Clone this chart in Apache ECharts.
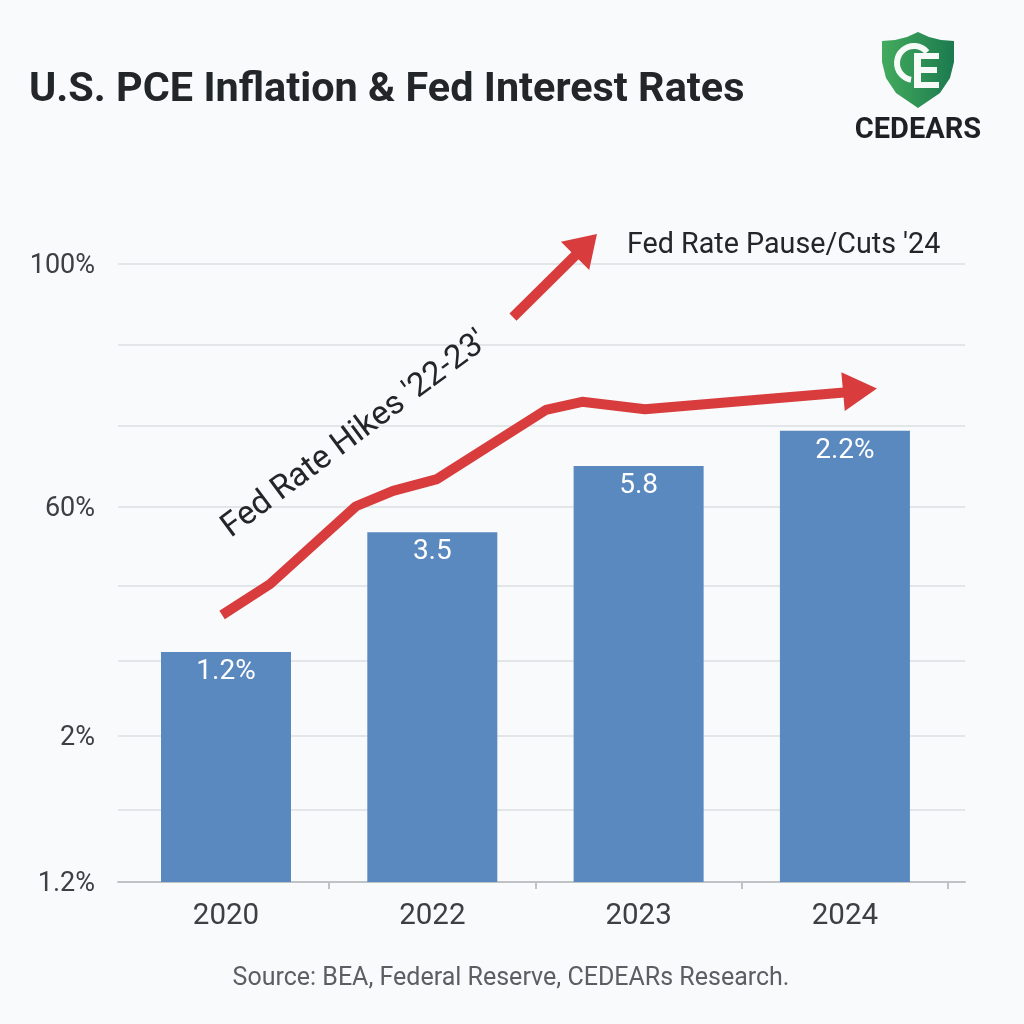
<!DOCTYPE html>
<html>
<head>
<meta charset="utf-8">
<title>U.S. PCE Inflation & Fed Interest Rates</title>
<style>
  html, body { margin: 0; padding: 0; background: #f8fafc; }
  #chart { width: 1024px; height: 1024px; }
</style>
<script src="https://cdn.jsdelivr.net/npm/echarts@6/dist/echarts.min.js"></script>
</head>
<body>
<div id="chart"></div>
<script>
// the printed y axis is not linear, so the axis runs 0-100 over its height
var categories = ['2020', '2022', '2023', '2024'];
var categoryTicks = [0, 1, 2, 3];
var bandEdges = [0.5, 1.5, 2.5, 3.5];
var barHeights = [37.2, 56.6, 67.3, 73.0];
var barLabels = ['1.2%', '3.5', '5.8', '2.2%'];
var gridValues = [0, 11.7, 23.6, 35.8, 48.0, 60.8, 73.8, 86.9, 100];
var yTickValues = [0, 23.6, 60.8, 100];
var yTickLabels = ['1.2%', '2%', '60%', '100%'];
var rateX = [-0.019, 0.213, 0.630, 0.810, 1.023, 1.551, 1.726, 2.031, 3.025, 3.073];
var rateY = [43.2, 48.2, 60.8, 63.3, 65.2, 76.4, 77.7, 76.5, 79.3, 79.6];
var hikeX = [1.391, 1.745];
var hikeY = [91.4, 103.1];

var RED = '#d83c3c';
var BLUE = '#5a89bf';
var INK = '#222629';
var FONT = 'Roboto';

function pairs(xs, ys) {
  return xs.map(function (x, i) { return [x, ys[i]]; });
}

// line with a triangle head sitting on its last point
function arrowSeries(xs, ys, size, rotate) {
  var last = xs.length - 1;
  return {
    type: 'line',
    data: pairs(xs, ys),
    clip: false,
    z: 4,
    silent: true,
    showAllSymbol: true,
    symbol: function (v, p) { return p.dataIndex === last ? 'triangle' : 'none'; },
    symbolSize: size,
    symbolRotate: rotate,
    itemStyle: { color: RED },
    lineStyle: { color: RED, width: 10, cap: 'butt', join: 'round' }
  };
}

var myChart = echarts.init(document.getElementById('chart'));
myChart.setOption({
  animation: false,
  backgroundColor: '#f8fafc',
  textStyle: { fontFamily: FONT },
  title: [{
    text: 'U.S. PCE Inflation & Fed Interest Rates',
    left: 24,
    top: 65,
    textStyle: { fontFamily: FONT, fontSize: 41.4, fontWeight: 'bold', color: INK }
  }, {
    text: 'Source: BEA, Federal Reserve, CEDEARs Research.',
    left: 506,
    top: 961,
    textAlign: 'center',
    textStyle: { fontFamily: FONT, fontSize: 25, fontWeight: 'normal', color: '#5b5f63' }
  }],
  grid: { left: 118, right: 59, top: 264, bottom: 142 },
  xAxis: {
    type: 'value',
    min: -0.5235,
    max: 3.582,
    splitLine: { show: false },
    axisLine: { show: true, lineStyle: { color: '#bfc3c6', width: 2 } },
    axisTick: { show: true, customValues: bandEdges, length: 7, lineStyle: { color: '#bfc3c6', width: 2 } },
    axisLabel: {
      customValues: categoryTicks,
      margin: 20,
      fontFamily: FONT,
      fontSize: 29.5,
      color: '#3c4043',
      formatter: function (v) { return categories[v]; }
    }
  },
  yAxis: {
    type: 'value',
    min: 0,
    max: 100,
    axisLine: { show: false },
    axisTick: { show: false, customValues: gridValues },
    splitLine: { show: true, lineStyle: { color: '#e3e6e9', width: 2 } },
    axisLabel: {
      customValues: yTickValues,
      margin: 23,
      fontFamily: FONT,
      fontSize: 27,
      color: '#3c4043',
      formatter: function (v) { return '{t|' + yTickLabels[yTickValues.indexOf(v)] + '}'; },
      rich: {
        t: { fontFamily: FONT, fontSize: 27, color: '#3c4043', padding: [5, 0, 0, 0] }
      }
    }
  },
  series: [{
    type: 'bar',
    barWidth: 130,
    z: 2,
    data: barHeights.map(function (h, i) { return [categoryTicks[i], h]; }),
    itemStyle: { color: BLUE },
    label: {
      show: true,
      position: 'insideTop',
      distance: 6,
      fontFamily: FONT,
      fontSize: 28,
      color: '#ffffff',
      formatter: function (p) { return barLabels[p.dataIndex]; }
    }
  },
    arrowSeries(rateX, rateY, [39, 34], -85),
    arrowSeries(hikeX, hikeY, [40, 31], -45)
  ],
  graphic: [
    {
      type: 'text',
      x: 355, y: 435,
      z: 10,
      rotation: 36.7 * Math.PI / 180,
      style: {
        text: "Fed Rate Hikes '22-23'",
        x: 0, y: 0,
        align: 'center', verticalAlign: 'middle',
        font: '33px ' + FONT,
        fill: INK
      }
    },
    {
      type: 'text',
      z: 10,
      style: {
        text: "Fed Rate Pause/Cuts '24",
        x: 627, y: 246,
        verticalAlign: 'middle',
        font: '28.7px ' + FONT,
        fill: INK
      }
    },
    // logo
    {
      type: 'polygon',
      shape: { points: [[882, 41], [895, 40], [907, 37], [918, 32], [929, 37], [941, 40], [954, 41], [954, 62], [950, 78], [940, 93], [918, 108], [896, 93], [886, 78], [882, 62]] },
      style: {
        fill: new echarts.graphic.LinearGradient(0, 0, 1, 0, [
          { offset: 0, color: '#43ab5e' },
          { offset: 1, color: '#1c7a4e' }
        ])
      }
    },
    {
      type: 'arc',
      shape: { cx: 914, cy: 63, r: 17, startAngle: -40 * Math.PI / 180, endAngle: 100 * Math.PI / 180, clockwise: false },
      style: { fill: 'none', stroke: '#f6fbf7', lineWidth: 6 }
    },
    {
      type: 'polygon',
      shape: { points: [[914, 53], [939, 53], [939, 59], [921, 59], [921, 67], [937, 67], [937, 73], [921, 73], [921, 82], [939, 82], [939, 88], [914, 88]] },
      style: { fill: '#f6fbf7' }
    },
    {
      type: 'text',
      style: {
        text: 'CEDEARS',
        x: 918, y: 131,
        align: 'center', verticalAlign: 'middle',
        font: 'bold 29px ' + FONT,
        fill: '#1d2125'
      }
    }
  ]
});
</script>
</body>
</html>
